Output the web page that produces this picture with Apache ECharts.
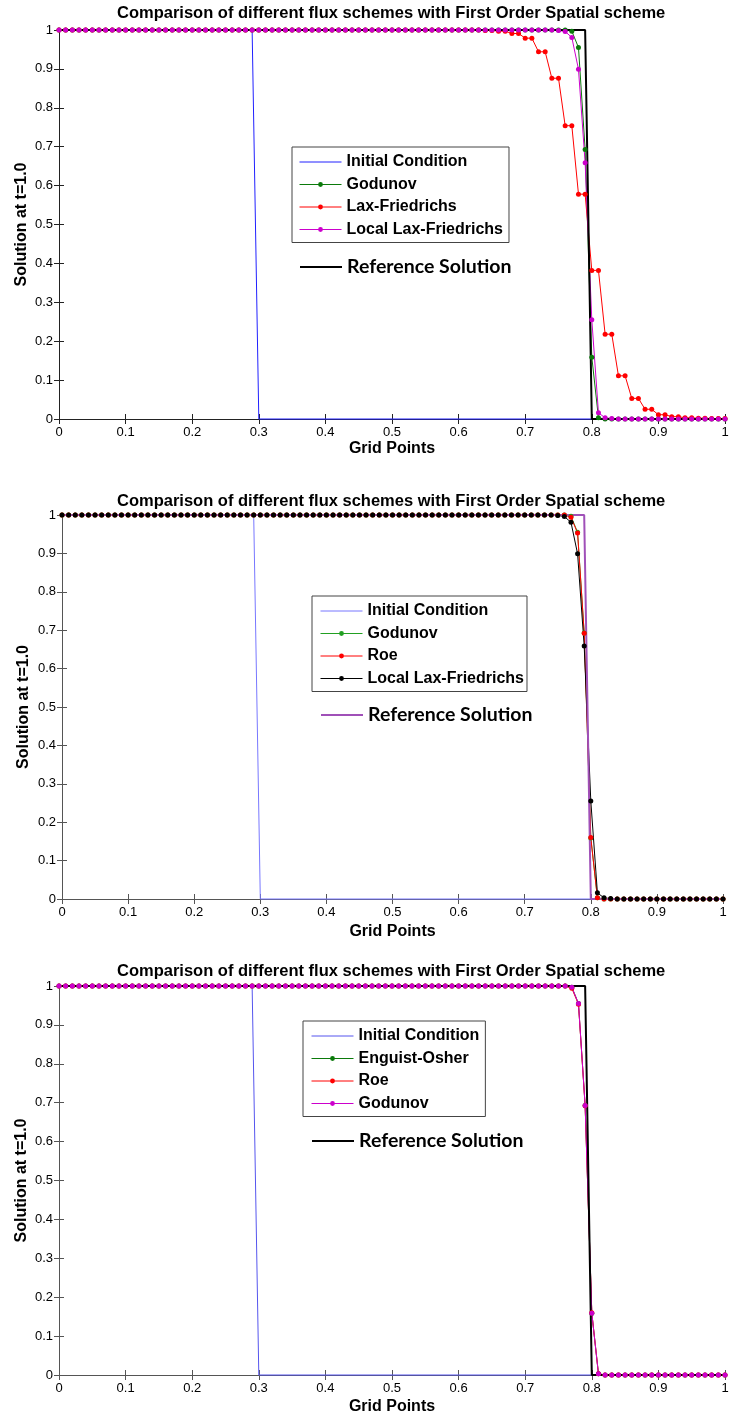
<!DOCTYPE html>
<html lang="en">
<head>
    <meta charset="utf-8"/>
    <script src="https://cdn.jsdelivr.net/npm/echarts@6.0.0/dist/echarts.min.js"></script>
    <title>Flux schemes</title>
    <style>
        body { margin: 0; background: #fff; }
        .panel { position: absolute; left: 0; width: 733px; }
    </style>
</head>
<body>
<div id="p1" class="panel" style="top:0;height:470px;"></div>
<div id="p2" class="panel" style="top:470px;height:470px;"></div>
<div id="p3" class="panel" style="top:940px;height:477px;"></div>
<script type="text/javascript">

    // grid points x = 0 .. 1
    var gridPoints = [
        0, 0.01, 0.02, 0.03, 0.04, 0.05, 0.06, 0.07, 0.08, 0.09,
        0.10, 0.11, 0.12, 0.13, 0.14, 0.15, 0.16, 0.17, 0.18, 0.19,
        0.20, 0.21, 0.22, 0.23, 0.24, 0.25, 0.26, 0.27, 0.28, 0.29,
        0.30, 0.31, 0.32, 0.33, 0.34, 0.35, 0.36, 0.37, 0.38, 0.39,
        0.40, 0.41, 0.42, 0.43, 0.44, 0.45, 0.46, 0.47, 0.48, 0.49,
        0.50, 0.51, 0.52, 0.53, 0.54, 0.55, 0.56, 0.57, 0.58, 0.59,
        0.60, 0.61, 0.62, 0.63, 0.64, 0.65, 0.66, 0.67, 0.68, 0.69,
        0.70, 0.71, 0.72, 0.73, 0.74, 0.75, 0.76, 0.77, 0.78, 0.79,
        0.80, 0.81, 0.82, 0.83, 0.84, 0.85, 0.86, 0.87, 0.88, 0.89,
        0.90, 0.91, 0.92, 0.93, 0.94, 0.95, 0.96, 0.97, 0.98, 0.99,
        1.00
    ];

    var godunov = [
        1, 1, 1, 1, 1, 1, 1, 1, 1, 1,
        1, 1, 1, 1, 1, 1, 1, 1, 1, 1,
        1, 1, 1, 1, 1, 1, 1, 1, 1, 1,
        1, 1, 1, 1, 1, 1, 1, 1, 1, 1,
        1, 1, 1, 1, 1, 1, 1, 1, 1, 1,
        1, 1, 1, 1, 1, 1, 1, 1, 1, 1,
        1, 1, 1, 1, 1, 1, 1, 1, 1, 1,
        1, 1, 1, 1, 1, 1, 1, 0.997, 0.955, 0.693,
        0.159, 0.003, 0, 0, 0, 0, 0, 0, 0, 0,
        0, 0, 0, 0, 0, 0, 0, 0, 0, 0,
        0
    ];

    var roe = [
        1, 1, 1, 1, 1, 1, 1, 1, 1, 1,
        1, 1, 1, 1, 1, 1, 1, 1, 1, 1,
        1, 1, 1, 1, 1, 1, 1, 1, 1, 1,
        1, 1, 1, 1, 1, 1, 1, 1, 1, 1,
        1, 1, 1, 1, 1, 1, 1, 1, 1, 1,
        1, 1, 1, 1, 1, 1, 1, 1, 1, 1,
        1, 1, 1, 1, 1, 1, 1, 1, 1, 1,
        1, 1, 1, 1, 1, 1, 1, 0.994, 0.953, 0.692,
        0.16, 0.003, 0, 0, 0, 0, 0, 0, 0, 0,
        0, 0, 0, 0, 0, 0, 0, 0, 0, 0,
        0
    ];

    var laxFriedrichs = [
        1, 1, 1, 1, 1, 1, 1, 1, 1, 1,
        1, 1, 1, 1, 1, 1, 1, 1, 1, 1,
        1, 1, 1, 1, 1, 1, 1, 1, 1, 1,
        1, 1, 1, 1, 1, 1, 1, 1, 1, 1,
        1, 1, 1, 1, 1, 1, 1, 1, 1, 1,
        1, 1, 1, 1, 1, 1, 1, 1, 1, 1,
        1, 1, 1, 1, 0.999, 0.999, 0.997, 0.997, 0.991, 0.991,
        0.979, 0.979, 0.944, 0.944, 0.876, 0.876, 0.754, 0.754, 0.578, 0.578,
        0.382, 0.382, 0.218, 0.218, 0.111, 0.111, 0.053, 0.053, 0.025, 0.025,
        0.011, 0.011, 0.006, 0.006, 0.003, 0.003, 0.002, 0.002, 0.001, 0.001,
        0.001
    ];

    var localLaxFriedrichs = [
        1, 1, 1, 1, 1, 1, 1, 1, 1, 1,
        1, 1, 1, 1, 1, 1, 1, 1, 1, 1,
        1, 1, 1, 1, 1, 1, 1, 1, 1, 1,
        1, 1, 1, 1, 1, 1, 1, 1, 1, 1,
        1, 1, 1, 1, 1, 1, 1, 1, 1, 1,
        1, 1, 1, 1, 1, 1, 1, 1, 1, 1,
        1, 1, 1, 1, 1, 1, 1, 1, 1, 1,
        1, 1, 1, 1, 1, 0.999, 0.996, 0.981, 0.899, 0.659,
        0.255, 0.016, 0.003, 0.001, 0, 0, 0, 0, 0, 0,
        0, 0, 0, 0, 0, 0, 0, 0, 0, 0,
        0
    ];

    // Engquist-Osher lies exactly under Godunov in the third plot
    var engquistOsher = godunov;

    // step profiles (no markers)
    var initialX = [0, 0.29, 0.30, 1];
    var initialY = [1, 1, 0, 0];
    var referenceX = [0, 0.79, 0.80, 1];
    var referenceY = [1, 1, 0, 0];

    var titleText = 'Comparison of different flux schemes with First Order Spatial scheme';

    function pairs(xs, ys) {
        return xs.map(function (x, i) { return [x, ys[i]]; });
    }

    function dotted(name, values, color) {
        return {
            name: name, type: 'line', data: pairs(gridPoints, values),
            symbol: 'circle', symbolSize: 5, clip: false,
            lineStyle: {color: color, width: 1}, itemStyle: {color: color}
        };
    }

    function plain(name, xs, ys, color, width) {
        return {
            name: name, type: 'line', data: pairs(xs, ys), symbol: 'none', clip: false,
            lineStyle: {color: color, width: width}, itemStyle: {color: color}
        };
    }

    // legend entry for a series drawn without markers: line only
    function lineOnly(name) {
        return {name: name, itemStyle: {opacity: 0}};
    }

    function makeOption(p) {
        var axisColor = p.axisColor;
        var base = {
            type: 'value', min: 0, max: 1, interval: 0.1,
            axisLine: {show: true, lineStyle: {color: axisColor, width: 1}},
            axisTick: {show: true, inside: true, length: 5, lineStyle: {color: axisColor}},
            splitLine: {show: false}
        };
        var label = {show: true, color: '#000', fontSize: 13, fontFamily: 'Liberation Sans'};
        var nameStyle = {color: '#000', fontSize: 16, fontWeight: 'bold', fontFamily: 'Liberation Sans'};
        var names = p.legendNames.slice();
        names[0] = lineOnly(names[0]);
        var grid = Object.assign({outerBoundsMode: 'none', containLabel: false}, p.grid);
        return {
            animation: false,
            title: {
                text: titleText, left: 117, top: p.titleTop, padding: 0,
                textStyle: {fontSize: 16.5, fontWeight: 'bold', color: '#000', fontFamily: 'Liberation Sans'}
            },
            grid: grid,
            legend: [{
                data: names, orient: 'vertical', left: p.legendLeft, top: p.legendTop,
                padding: p.legendPadding, borderColor: '#444', borderWidth: 1,
                itemWidth: 42, itemHeight: 6, itemGap: 6.5, lineStyle: {width: 1},
                textStyle: {fontSize: 16, lineHeight: 16, fontWeight: 'bold', color: '#000', fontFamily: 'Liberation Sans'}
            }, {
                data: [lineOnly('Reference Solution')], left: p.legendLeft + p.legendPadding[3], top: p.refTop,
                padding: 0, itemWidth: 42, itemHeight: 6, lineStyle: {width: 2},
                textStyle: {fontSize: 19.5, lineHeight: 20, fontWeight: 'bold', color: '#000', fontFamily: 'Lato'}
            }],
            xAxis: [
                Object.assign({}, base, {
                    position: 'bottom', axisLabel: Object.assign({margin: 7}, label),
                    name: 'Grid Points', nameLocation: 'middle', nameGap: p.xNameGap,
                    nameMoveOverlap: false, nameTextStyle: nameStyle
                }),
                Object.assign({}, base, {position: 'top', axisLabel: {show: false}})
            ],
            yAxis: [
                Object.assign({}, base, {
                    position: 'left', axisLabel: Object.assign({margin: 6}, label),
                    name: 'Solution at t=1.0', nameLocation: 'middle', nameGap: p.yNameGap,
                    nameMoveOverlap: false, nameTextStyle: nameStyle
                }),
                Object.assign({}, base, {position: 'right', axisLabel: {show: false}})
            ],
            series: p.series
        };
    }

    var chart1 = echarts.init(document.getElementById('p1'));
    chart1.setOption(makeOption({
        axisColor: '#222', titleTop: 5,
        grid: {left: 59, right: 8, top: 30, bottom: 51},
        legendNames: ['Initial Condition', 'Godunov', 'Lax-Friedrichs', 'Local Lax-Friedrichs'],
        legendLeft: 292, legendTop: 147, legendPadding: [7, 6, 5, 7], refTop: 257,
        xNameGap: 22, yNameGap: 29,
        series: [
            plain('Initial Condition', initialX, initialY, '#2020ff', 1),
            dotted('Godunov', godunov, '#0b7a0b'),
            dotted('Lax-Friedrichs', laxFriedrichs, '#ff0000'),
            dotted('Local Lax-Friedrichs', localLaxFriedrichs, '#cc00cc'),
            plain('Reference Solution', referenceX, referenceY, '#000000', 2)
        ]
    }));

    var chart2 = echarts.init(document.getElementById('p2'));
    chart2.setOption(makeOption({
        axisColor: '#555', titleTop: 23,
        grid: {left: 62, right: 10, top: 45, bottom: 41},
        legendNames: ['Initial Condition', 'Godunov', 'Roe', 'Local Lax-Friedrichs'],
        legendLeft: 312, legendTop: 126, legendPadding: [7, 3, 5, 8], refTop: 235,
        xNameGap: 25, yNameGap: 30,
        series: [
            plain('Initial Condition', initialX, initialY, '#7777ff', 1),
            dotted('Godunov', godunov, '#22a022'),
            dotted('Roe', roe, '#ff0000'),
            dotted('Local Lax-Friedrichs', localLaxFriedrichs, '#000000'),
            plain('Reference Solution', referenceX, referenceY, '#a050b8', 2)
        ]
    }));

    var chart3 = echarts.init(document.getElementById('p3'));
    chart3.setOption(makeOption({
        axisColor: '#555', titleTop: 23,
        grid: {left: 59, right: 8, top: 46, bottom: 42},
        legendNames: ['Initial Condition', 'Enguist-Osher', 'Roe', 'Godunov'],
        legendLeft: 303, legendTop: 81, legendPadding: [7, 6, 5, 8], refTop: 191,
        xNameGap: 24, yNameGap: 29,
        series: [
            plain('Initial Condition', initialX, initialY, '#5555ee', 1),
            dotted('Enguist-Osher', engquistOsher, '#0b7a0b'),
            dotted('Roe', roe, '#ff0000'),
            dotted('Godunov', godunov, '#cc00cc'),
            plain('Reference Solution', referenceX, referenceY, '#000000', 2)
        ]
    }));
</script>
</body>
</html>
